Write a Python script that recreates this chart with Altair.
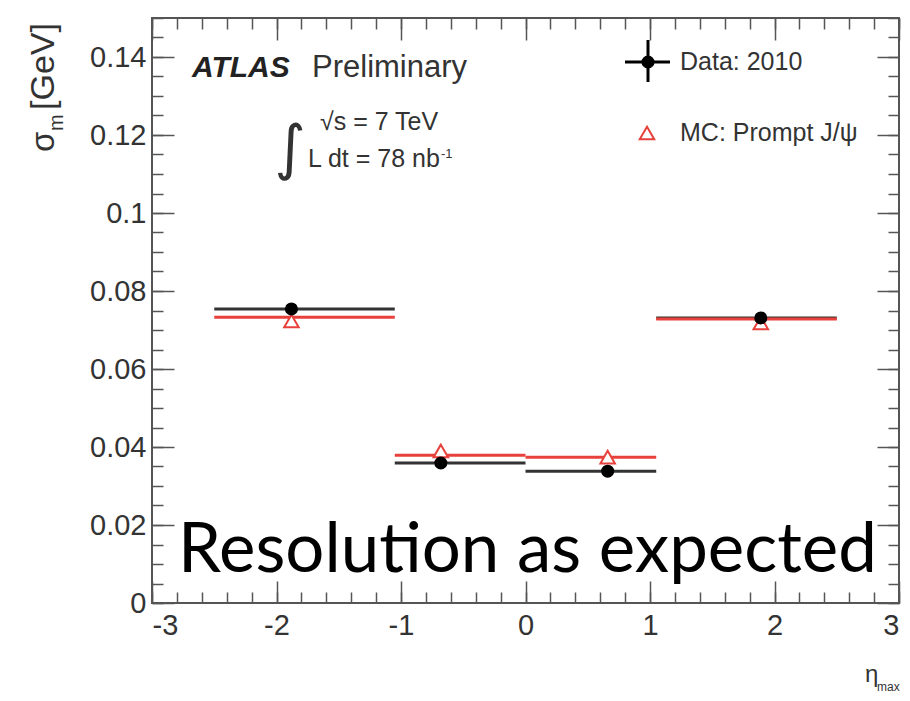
import altair as alt
import pandas as pd

# ---- data ----
bin_lo = [-2.5, -1.05, 0.0, 1.05]
bin_hi = [-1.05, 0.0, 1.05, 2.5]
eta_point = [-1.88, -0.68, 0.66, 1.89]
data_sigma = [0.0754, 0.0359, 0.0338, 0.0731]
data_err = [0.0006, 0.0005, 0.0005, 0.0006]
mc_sigma = [0.0733, 0.0379, 0.0374, 0.0728]
mc_marker = [0.0723, 0.0390, 0.0374, 0.0718]

x_major = [-3, -2, -1, 0, 1, 2, 3]
x_minor = [round(-3 + 0.2 * i, 1) for i in range(31)]
y_major = [0, 0.02, 0.04, 0.06, 0.08, 0.1, 0.12, 0.14]
y_minor = [round(0.005 * i, 3) for i in range(31)]

df = pd.DataFrame({
    "lo": bin_lo, "hi": bin_hi, "eta": eta_point,
    "data": data_sigma,
    "dlo": [d - e for d, e in zip(data_sigma, data_err)],
    "dhi": [d + e for d, e in zip(data_sigma, data_err)],
    "mc": mc_sigma, "mcm": mc_marker,
})

W, H = 747, 585
FRAME = "#555555"
LABEL = "#333333"
RED = "#e8403a"
FONT = "Liberation Sans"

xs = alt.Scale(domain=[-3, 3], nice=False, zero=False)
ys = alt.Scale(domain=[0, 0.15], nice=False, zero=False)


def tick_axis(orient, offset, values, size):
    return alt.Axis(orient=orient, offset=offset, values=values, tickSize=size,
                    tickColor=FRAME, tickWidth=1.5, labels=False, domain=False,
                    grid=False, title=None)


x_label_axis = alt.Axis(orient="bottom", values=x_major, ticks=False, domain=False, grid=False,
                        labelFontSize=29, labelFont=FONT, labelColor=LABEL, labelPadding=8,
                        labelExpr="'' + datum.value", title=None)
y_label_axis = alt.Axis(orient="left", values=y_major, ticks=False, domain=False, grid=False,
                        labelFontSize=29, labelFont=FONT, labelColor=LABEL, labelPadding=6,
                        labelExpr="datum.value == 0 ? '0' : format(datum.value, '~g')", title=None)

black_lines = alt.Chart(df).mark_rule(color="#333333", strokeWidth=3).encode(
    x=alt.X("lo:Q", scale=xs, axis=x_label_axis), x2="hi:Q",
    y=alt.Y("data:Q", scale=ys, axis=y_label_axis))

red_lines = alt.Chart(df).mark_rule(color=RED, strokeWidth=3).encode(
    x=alt.X("lo:Q", scale=xs, axis=tick_axis("top", -H, x_major, 22)), x2="hi:Q",
    y=alt.Y("mc:Q", scale=ys, axis=tick_axis("right", -W, y_major, 22)))

mc_points = alt.Chart(df).mark_point(shape="triangle-up", size=210, fill="white", fillOpacity=1,
                                     stroke=RED, strokeWidth=2, opacity=1).encode(
    x=alt.X("eta:Q", scale=xs, axis=tick_axis("top", -H, x_minor, 11)),
    y=alt.Y("mcm:Q", scale=ys, axis=tick_axis("right", -W, y_minor, 11)))

err_bars = alt.Chart(df).mark_rule(color="black", strokeWidth=2).encode(
    x=alt.X("eta:Q", scale=xs, axis=tick_axis("bottom", -H, x_minor, 11)),
    y=alt.Y("dlo:Q", scale=ys, axis=tick_axis("left", -W, y_minor, 11)), y2="dhi:Q")

data_points = alt.Chart(df).mark_point(shape="circle", filled=True, size=170, color="black",
                                       opacity=1).encode(
    x=alt.X("eta:Q", scale=xs, axis=tick_axis("bottom", -H, x_major, 22)),
    y=alt.Y("data:Q", scale=ys, axis=tick_axis("left", -W, y_major, 22)))


def txt(s, x, y, size, **kw):
    base = dict(font=FONT, fontSize=size, color=LABEL, align="left", baseline="alphabetic")
    base.update(kw)
    return alt.Chart(pd.DataFrame({"t": [s]})).mark_text(**base).encode(
        text="t:N", x=alt.value(x), y=alt.value(y))


one = pd.DataFrame({"a": [0]})
legend_h = alt.Chart(one).mark_rule(color="black", strokeWidth=3).encode(
    x=alt.value(473), x2=alt.value(518), y=alt.value(44))
legend_v = alt.Chart(one).mark_rule(color="black", strokeWidth=3).encode(
    x=alt.value(496), y=alt.value(22), y2=alt.value(64))
legend_dot = alt.Chart(one).mark_point(shape="circle", filled=True, size=170, color="black",
                                       opacity=1).encode(x=alt.value(496), y=alt.value(44))
legend_tri = alt.Chart(one).mark_point(shape="triangle-up", size=210, fill="white", fillOpacity=1,
                                       stroke=RED, strokeWidth=2, opacity=1).encode(
    x=alt.value(495), y=alt.value(115))

annotations = [
    txt("Data: 2010", 528, 44, 25, baseline="middle"),
    txt("MC: Prompt J/\u03c8", 528, 115, 25, baseline="middle"),
    txt("ATLAS", 40, 59, 30, fontWeight="bold", fontStyle="italic", color="#222222"),
    txt("Preliminary", 160, 59, 31),
    txt("\u221as = 7 TeV", 168, 112, 25),
    txt("L dt = 78 nb", 156, 149, 25),
    txt("-1", 289, 140, 13),
    txt("\u222b", 138, 132, 60, font="DejaVu Sans", align="center", baseline="middle"),
    txt("\u03c3", -98, 134, 33, angle=270),
    txt("m", -89, 113, 20, angle=270),
    txt("[GeV]", -98, 92, 34, angle=270),
    txt("\u03b7", 713, 664, 24),
    txt("max", 725, 673, 12),
    txt("Resolu\u200ction as expected", 26, 554, 69, font="Lato", color="black"),
]

chart = alt.layer(
    black_lines, red_lines, mc_points, err_bars, data_points,
    legend_h, legend_v, legend_dot, legend_tri, *annotations
).resolve_axis(x="independent", y="independent").properties(
    width=W, height=H,
    autosize=alt.AutoSizeParams(type="none"),
    padding={"left": 144, "top": 10, "right": 3, "bottom": 92},
    background="white",
).configure_view(stroke=FRAME, strokeWidth=2)

chart.save("out.html", embed_options={"renderer": "svg", "actions": False})
